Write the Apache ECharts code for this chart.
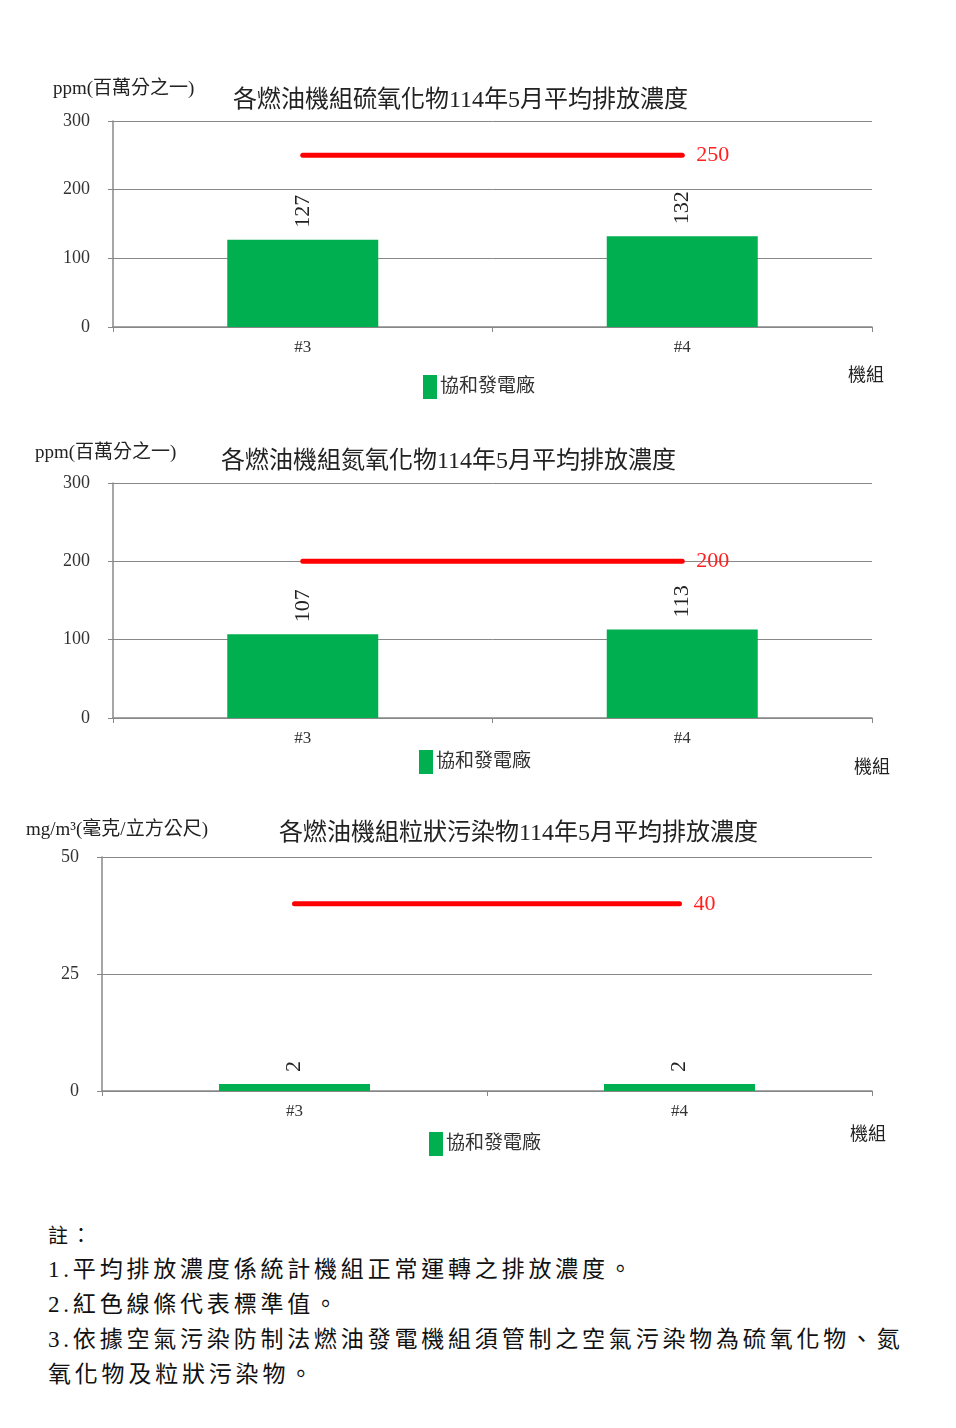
<!DOCTYPE html>
<html><head><meta charset="utf-8">
<script src="https://cdn.jsdelivr.net/npm/echarts@6/dist/echarts.min.js"></script>
<style>
html,body{margin:0;padding:0;background:#fff;}
#c{width:956px;height:1200px;position:absolute;left:0;top:0;}
#notes{position:absolute;left:48px;top:1220px;width:900px;font-family:'Liberation Serif','Noto Sans CJK TC',serif;color:#111;}
#notes .h{font-size:20px;line-height:32px;letter-spacing:3px;}
#notes .l{font-size:23px;line-height:35px;letter-spacing:3.8px;white-space:nowrap;}
</style></head>
<body>
<div id="c"></div>
<div id="notes">
<div class="h">註：</div>
<div class="l">1.平均排放濃度係統計機組正常運轉之排放濃度。</div>
<div class="l">2.紅色線條代表標準值。</div>
<div class="l">3.依據空氣污染防制法燃油發電機組須管制之空氣污染物為硫氧化物、氮</div>
<div class="l">氧化物及粒狀污染物。</div>
</div>
<script>
const categories = ['#3', '#4'];
const seriesName = '協和發電廠';
const soxValues = [127, 132];
const noxValues = [107, 113];
const pmValues = [1.5, 1.5];
const soxStandard = [250, 250];
const noxStandard = [200, 200];
const pmStandard = [40, 40];
const titles = ['各燃油機組硫氧化物114年5月平均排放濃度','各燃油機組氮氧化物114年5月平均排放濃度','各燃油機組粒狀污染物114年5月平均排放濃度'];
const yNames = ['ppm(百萬分之一)','ppm(百萬分之一)','mg/m³(毫克/立方公尺)'];
const yMax = [300, 300, 50];
const yInterval = [100, 100, 25];

const FF = "'Liberation Serif','Noto Sans CJK TC',serif";
const grids = [
  {left:113, top:121, width:759, height:206},
  {left:113, top:483, width:759, height:235},
  {left:102, top:857, width:770, height:234}
];
const titlePos = [{left:233, top:89},{left:221, top:450},{left:279, top:822}];
const yNamePos = [{x:53, y:90},{x:35, y:454},{x:26, y:831}];
const legendPos = [{left:423, top:375},{left:419, top:750},{left:429, top:1132}];
const xNamePos = [{x:848, y:377},{x:854, y:769},{x:850, y:1136}];
const barData = [soxValues, noxValues, pmValues];
const stdData = [soxStandard, noxStandard, pmStandard];

const option = {
  animation:false,
  textStyle:{fontFamily:FF},
  grid: grids,
  title: titles.map((t,i)=>({text:t, left:titlePos[i].left, top:titlePos[i].top, padding:0, textStyle:{fontFamily:FF, fontSize:24, fontWeight:'normal', color:'#222'}})),
  legend: legendPos.map((p,i)=>({data:[seriesName], left:p.left, top:p.top, padding:0, icon:'rect', itemWidth:14, itemHeight:24, itemGap:10, textStyle:{fontFamily:FF, fontSize:19, color:'#333', padding:[0,0,0,-2]}, selectedMode:false})),
  xAxis: grids.map((g,i)=>({type:'category', gridIndex:i, data:categories,
    axisLine:{lineStyle:{color:'#888', width:1.5}},
    axisTick:{show:true, length:5, lineStyle:{color:'#888'}},
    axisLabel:{fontFamily:FF, fontSize:17, color:'#333', margin:12}})),
  yAxis: grids.map((g,i)=>({type:'value', gridIndex:i, min:0, max:yMax[i], interval:yInterval[i],
    axisLine:{show:true, lineStyle:{color:'#888', width:1.5}},
    axisTick:{show:true, length:5, lineStyle:{color:'#888'}},
    splitLine:{lineStyle:{color:'#888', width:1}},
    axisLabel:{fontFamily:FF, fontSize:18, color:'#333', margin:23}})),
  graphic: [
    ...yNames.map((t,i)=>({type:'text', left:yNamePos[i].x, top:yNamePos[i].y-10, style:{text:t, font:'19px '+FF, fill:'#222'}})),
    ...xNamePos.map(p=>({type:'text', left:p.x, top:p.y-10, style:{text:'機組', font:'18px '+FF, fill:'#222'}}))
  ],
  series: [
    ...barData.map((d,i)=>({type:'bar', name:seriesName, xAxisIndex:i, yAxisIndex:i, data:d, barWidth:151,
      itemStyle:{color:'#00b050'},
      label:{show:true, position:'top', rotate:90, align:'left', verticalAlign:'middle', distance:12,
        fontFamily:FF, fontSize:22, color:'#222', formatter:p=>String(Math.round(p.value))}})),
    ...stdData.map((d,i)=>({type:'line', name:'標準值', xAxisIndex:i, yAxisIndex:i, data:d, symbol:'none',
      lineStyle:{color:'#ff0000', width:5, cap:'round'},
      endLabel:{show:true, fontFamily:FF, fontSize:22, color:'#ff2020', distance:14, formatter:p=>String(p.value)}}))
  ]
};
const chart = echarts.init(document.getElementById('c'), null, {renderer:'canvas'});
chart.setOption(option);
</script>
</body></html>
